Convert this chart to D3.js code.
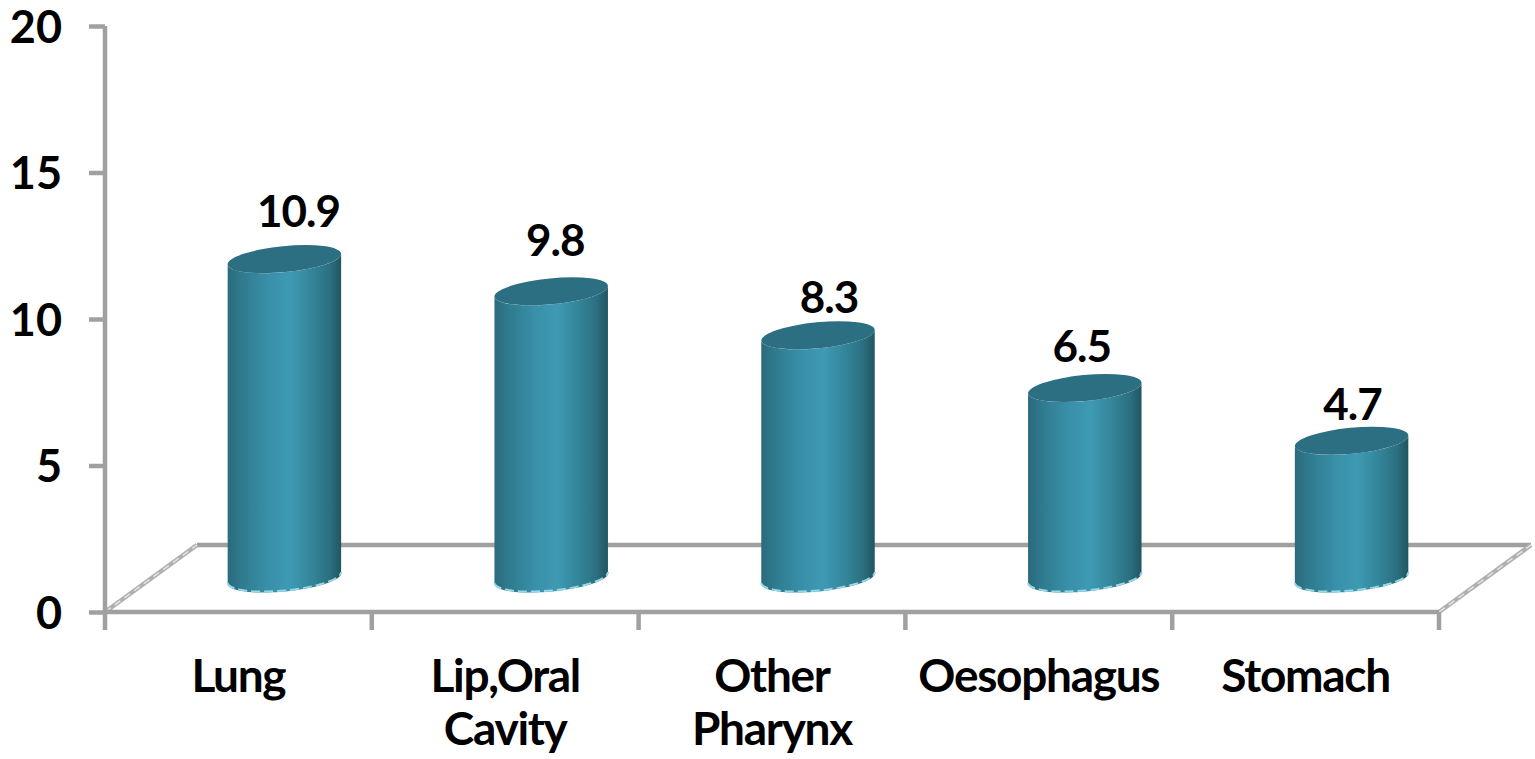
<!DOCTYPE html>
<html>
<head>
<meta charset="utf-8">
<script src="https://cdn.jsdelivr.net/npm/d3@7"></script>
<style>
  html, body { margin: 0; padding: 0; background: #fff; }
  svg { display: block; }
  text { font-family: Lato, "Open Sans", sans-serif; font-weight: 700; fill: #000; }
</style>
</head>
<body>
<svg id="chart" width="1535" height="759"></svg>
<script>
// Incidence by cancer site
const categories = ["Lung", "Lip,Oral|Cavity", "Other|Pharynx", "Oesophagus", "Stomach"];
const values = [10.9, 9.8, 8.3, 6.5, 4.7];
const valueTicks = [0, 5, 10, 15, 20];

// Hand placement of the value labels relative to each cylinder top
const labelDx = [14, 4, 11, -3, 1];
const labelDy = [-32, -35, -22, -26, -21];

const plot = { left: 105, right: 1439, top: 26, bottom: 612 };
const floorDepth = { x: 92, y: 67 };
const axisColor = "#a0a0a0";
const axisWidth = 4.5;
const cyl = { rx: 57, ry: 13, tilt: -5.5 };

const svg = d3.select("#chart");
const x = d3.scaleBand().domain(categories).range([plot.left, plot.right]);
const y = d3.scaleLinear().domain([0, 20]).range([plot.bottom, plot.top]);

// Shared horizontal shading for the cylinder walls
const grad = svg.append("defs").append("linearGradient").attr("id", "wall");
[[0, "#2b6a7c"], [0.12, "#2f7a8e"], [0.35, "#388fa8"], [0.55, "#3e9ab4"],
 [0.75, "#338498"], [0.9, "#2b6f80"], [1, "#215562"]].forEach(([o, c]) =>
  grad.append("stop").attr("offset", o).attr("stop-color", c));

// Floor of the 3D plot area
const floor = svg.append("g").attr("fill", "none");
floor.append("path")
  .attr("d", `M${plot.left + floorDepth.x},${plot.bottom - floorDepth.y}H${plot.right + floorDepth.x}`)
  .attr("stroke", axisColor).attr("stroke-width", axisWidth);
[plot.left, plot.right].forEach(px => {
  const seg = `M${px},${plot.bottom}L${px + floorDepth.x},${plot.bottom - floorDepth.y}`;
  floor.append("path").attr("d", seg).attr("stroke", "#b0b0b0").attr("stroke-width", 4.5);
  floor.append("path").attr("d", seg).attr("stroke", "#e6e6e6").attr("stroke-width", 1.4)
    .attr("stroke-dasharray", "7 5");
});

// Value axis
const yAxis = svg.append("g")
  .attr("transform", `translate(${plot.left},0)`)
  .call(d3.axisLeft(y).tickValues(valueTicks).tickSize(16).tickPadding(27));
yAxis.selectAll("line").attr("stroke", axisColor).attr("stroke-width", axisWidth);
yAxis.select(".domain").attr("stroke", axisColor).attr("stroke-width", axisWidth)
  .attr("d", `M0,${plot.top}V${plot.bottom + 18}`);
yAxis.selectAll("text").style("font-size", "45px").attr("dy", "0.36em");

// Category axis: baseline plus ticks on the band edges
const xAxis = svg.append("g");
xAxis.append("path")
  .attr("d", `M${plot.left},${plot.bottom}H${plot.right}`)
  .attr("stroke", axisColor).attr("stroke-width", axisWidth);
categories.forEach(c => {
  const edge = x(c) + x.bandwidth();
  xAxis.append("line")
    .attr("x1", edge).attr("x2", edge)
    .attr("y1", plot.bottom).attr("y2", plot.bottom + 18)
    .attr("stroke", axisColor).attr("stroke-width", axisWidth);
});
const catLabels = xAxis.selectAll("text.cat").data(categories).join("text")
  .attr("class", "cat")
  .attr("text-anchor", "middle")
  .style("font-size", "46px")
  .style("letter-spacing", "-1.3px");
catLabels.each(function (c) {
  c.split("|").forEach((line, i) => {
    d3.select(this).append("tspan")
      .attr("x", x(c) + x.bandwidth() / 2)
      .attr("y", 692 + i * 53)
      .text(line);
  });
});

// Cylinders stand in the middle of the floor's depth
const tilt = cyl.tilt * Math.PI / 180;
const baseShift = { x: floorDepth.x / 2, y: floorDepth.y / 2 };

// Point on the tilted rim ellipse at parameter a, centred on height cy
const rimPoint = (a, cy) => [
  cyl.rx * Math.cos(a) * Math.cos(tilt) - cyl.ry * Math.sin(a) * Math.sin(tilt),
  cy + cyl.rx * Math.cos(a) * Math.sin(tilt) + cyl.ry * Math.sin(a) * Math.cos(tilt)
];
// Front half of the rim, running left to right
const frontAngles = d3.range(0, 41).map(k => Math.PI - Math.PI * k / 40);
const frontRim = cy => frontAngles.map(a => rimPoint(a, cy));
const outline = d3.line();

const bars = svg.append("g").selectAll("g").data(categories).join("g")
  .attr("transform", c => `translate(${x(c) + x.bandwidth() / 2 + baseShift.x},0)`);

const baseY = y(0) - baseShift.y;
const topY = i => y(values[i]) - baseShift.y;

// Wall: front arc of the base, then back across the front arc of the top
bars.append("path")
  .attr("fill", "url(#wall)")
  .attr("d", (c, i) => outline([...frontRim(baseY), ...frontRim(topY(i)).reverse()]) + "Z");

// Broken light rim along the front of the base
bars.append("path")
  .attr("d", outline(frontRim(baseY - 1)))
  .attr("fill", "none").attr("stroke", "#9ad6e4").attr("stroke-width", 2)
  .attr("stroke-dasharray", "9 4");

// Top cap
bars.append("ellipse")
  .attr("rx", cyl.rx).attr("ry", cyl.ry)
  .attr("transform", (c, i) => `translate(0,${topY(i)}) rotate(${cyl.tilt})`)
  .attr("fill", "#2d6f82");

// Value labels
bars.append("text")
  .attr("text-anchor", "middle")
  .attr("x", (c, i) => labelDx[i])
  .attr("y", (c, i) => topY(i) + labelDy[i])
  .style("font-size", "44px")
  .style("letter-spacing", "-1px")
  .text((c, i) => values[i].toFixed(1));
</script>
</body>
</html>
